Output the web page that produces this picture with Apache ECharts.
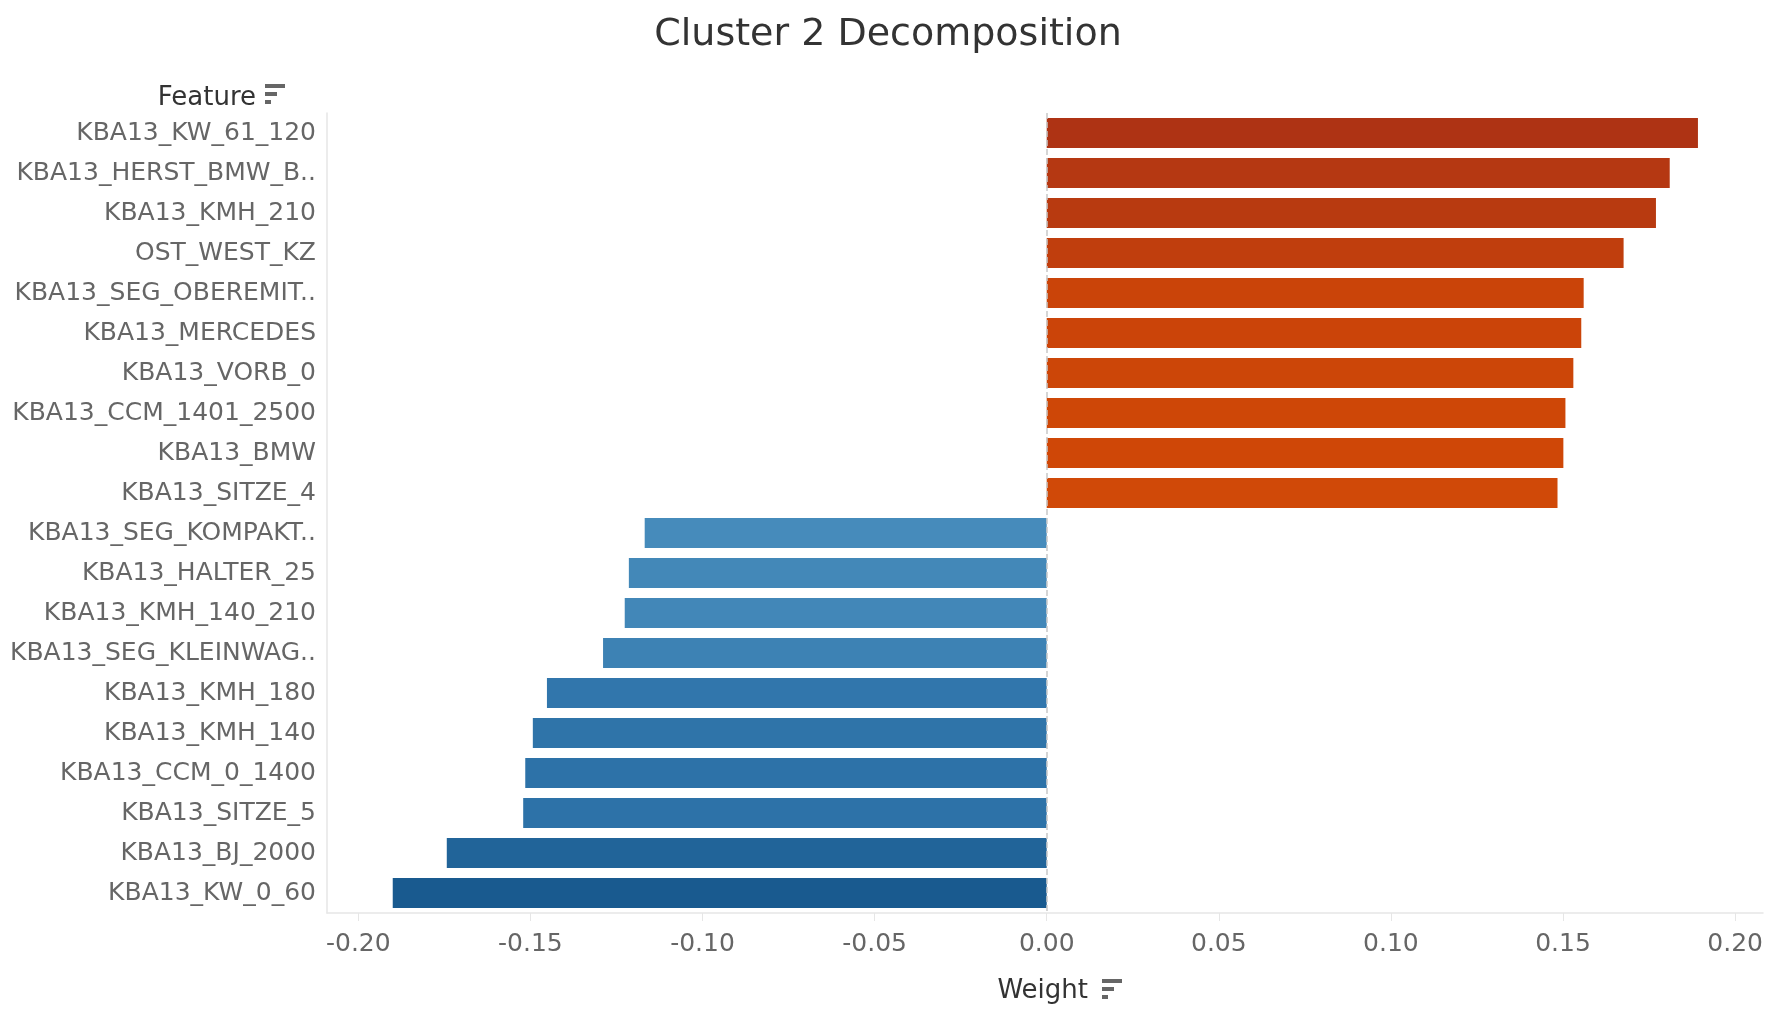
<!DOCTYPE html>
<html>
<head>
<meta charset="utf-8">
<script src="https://cdn.jsdelivr.net/npm/echarts@6/dist/echarts.min.js"></script>
<style>
  html, body { margin: 0; padding: 0; background: #fff; }
  #chart { width: 1776px; height: 1018px; }
</style>
</head>
<body>
<div id="chart"></div>
<script>
// Cluster 2 decomposition - feature weights

var features = [
    'KBA13_KW_61_120', 'KBA13_HERST_BMW_B..', 'KBA13_KMH_210', 'OST_WEST_KZ',
    'KBA13_SEG_OBEREMIT..', 'KBA13_MERCEDES', 'KBA13_VORB_0', 'KBA13_CCM_1401_2500',
    'KBA13_BMW', 'KBA13_SITZE_4', 'KBA13_SEG_KOMPAKT..', 'KBA13_HALTER_25',
    'KBA13_KMH_140_210', 'KBA13_SEG_KLEINWAG..', 'KBA13_KMH_180', 'KBA13_KMH_140',
    'KBA13_CCM_0_1400', 'KBA13_SITZE_5', 'KBA13_BJ_2000', 'KBA13_KW_0_60'
];

var weights = [
    0.1892, 0.1810, 0.1770, 0.1676, 0.1560, 0.1553, 0.1530, 0.1507, 0.1501, 0.1484,
    -0.1168, -0.1214, -0.1226, -0.1289, -0.1452, -0.1493, -0.1515, -0.1521, -0.1743, -0.1900
];

var weightTicks = [-0.2, -0.15, -0.1, -0.05, 0, 0.05, 0.1, 0.15, 0.2];

var font = 'DejaVu Sans';

var myChart = echarts.init(document.getElementById('chart'));

var option = {
    animation: false,
    title: {
        text: 'Cluster 2 Decomposition',
        left: 'center',
        top: 11,
        textStyle: { fontFamily: font, fontSize: 38, fontWeight: 'normal', color: '#333' }
    },
    grid: { left: 327, right: 13, top: 113, bottom: 105 },
    visualMap: {
        show: false,
        type: 'continuous',
        seriesIndex: 0,
        dimension: 0,
        min: -0.2,
        max: 0.2,
        inRange: {
            color: ['#145488', '#2e73a9', '#5297c4', '#9ac0de', '#eeeeee',
                    '#f5b080', '#ee7a30', '#cf4707', '#a52e18']
        }
    },
    xAxis: {
        type: 'value',
        min: -0.2091,
        max: 0.2081,
        splitLine: { show: false },
        axisLine: { show: true, lineStyle: { color: '#e6e6e6', width: 1.5 } },
        axisTick: {
            show: true,
            length: 8,
            customValues: weightTicks,
            lineStyle: { color: '#e6e6e6', width: 1 }
        },
        axisLabel: {
            customValues: weightTicks,
            margin: 19,
            fontFamily: font,
            fontSize: 25,
            color: '#666',
            formatter: function (v) { return v.toFixed(2); }
        }
    },
    yAxis: {
        type: 'category',
        data: features,
        inverse: true,
        axisLine: { show: true, onZero: false, lineStyle: { color: '#e6e6e6', width: 1.5 } },
        axisTick: { show: false },
        splitLine: { show: false },
        axisLabel: { margin: 11, fontFamily: font, fontSize: 25, color: '#666' }
    },
    series: [
        {
            name: 'Weight',
            type: 'bar',
            data: weights,
            barCategoryGap: '25%',
            markLine: {
                silent: true,
                symbol: 'none',
                label: { show: false },
                lineStyle: { color: '#c8c8c8', type: 'dashed', width: 1.5 },
                data: [{ xAxis: 0 }]
            }
        }
    ],
    graphic: [
        {
            type: 'text', x: 256, y: 98,
            style: { text: 'Feature', font: '26px "DejaVu Sans"', fill: '#333', align: 'right', verticalAlign: 'middle' }
        },
        { type: 'rect', shape: { x: 265, y: 84, width: 20, height: 4 }, style: { fill: '#666' } },
        { type: 'rect', shape: { x: 265, y: 92, width: 12, height: 4 }, style: { fill: '#666' } },
        { type: 'rect', shape: { x: 265, y: 100, width: 6, height: 4 }, style: { fill: '#666' } },
        {
            type: 'text', x: 1088, y: 991,
            style: { text: 'Weight', font: '26px "DejaVu Sans"', fill: '#333', align: 'right', verticalAlign: 'middle' }
        },
        { type: 'rect', shape: { x: 1102, y: 979, width: 20, height: 4 }, style: { fill: '#666' } },
        { type: 'rect', shape: { x: 1102, y: 987, width: 12, height: 4 }, style: { fill: '#666' } },
        { type: 'rect', shape: { x: 1102, y: 995, width: 6, height: 4 }, style: { fill: '#666' } }
    ]
};

myChart.setOption(option);

window.addEventListener('resize', function () {
    myChart.resize();
});
</script>
</body>
</html>
